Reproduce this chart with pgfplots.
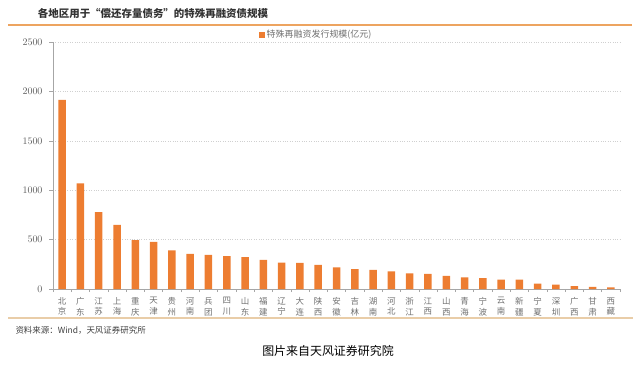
\documentclass[border=0pt]{standalone}
\usepackage{pgfplots}
\pgfplotsset{compat=1.18}
\usepackage{fontspec}
\setmainfont{Noto Sans CJK SC}
\definecolor{barorange}{HTML}{ED7D31}
\definecolor{lineorange}{HTML}{EDA460}
\definecolor{linebeige}{HTML}{E9CDA8}
\definecolor{tickgray}{HTML}{595959}
\definecolor{labgray}{HTML}{6F6F6F}
\definecolor{gridgray}{HTML}{D0D0D0}
\begin{document}
\begin{tikzpicture}[x=1bp,y=1bp]
\useasboundingbox (0,0) rectangle (643,365);
% decorative title/footer rules
\draw[lineorange, line width=1.1bp] (8,340) -- (632,340);
\draw[linebeige, line width=1.6bp] (8,47) -- (633,47);
\node[font=\bfseries\fontsize{10.5}{12}\selectfont, text=black!80] at (153,351) {各地区用于“偿还存量债务”的特殊再融资债规模};
\node[anchor=west, font=\fontsize{8.5}{10}\selectfont, text=black!75] at (12,35) {资料来源：Wind，天风证券研究所};
\node[font=\fontsize{12}{14}\selectfont, text=black] at (328,14) {图片来自天风证券研究院};
\begin{axis}[
  at={(53bp,76bp)}, anchor=south west,
  scale only axis, width=567bp, height=247bp,
  ymin=0, ymax=2500, ytick={0,500,...,2500},
  xmin=-0.5, xmax=30.5,
  axis x line*=bottom, axis y line*=left,
  axis line style={draw=gridgray!80!black, line width=0.6bp},
  ymajorgrids, grid style={gridgray, dotted, line width=0.6bp},
  tick align=outside,
  ytick style={draw=gridgray!80!black, line width=0.5bp},
  major tick length=4bp,
  yticklabel style={text=tickgray, font=\fontsize{10}{12}\selectfont, xshift=-3bp,
    /pgf/number format/1000 sep={}},
  xtick={0,...,30}, xtick style={draw=none},
  minor xtick={-0.5,0.5,...,30.5},
  minor tick length=3bp,
  minor x tick style={draw=gridgray!80!black, line width=0.5bp},
  xticklabel style={text=labgray, font=\fontsize{8.5}{10.5}\selectfont, align=center, yshift=-1bp},
  xticklabels={{北\\京},{广\\东},{江\\苏},{上\\海},{重\\庆},{天\\津},{贵\\州},{河\\南},{兵\\团},{四\\川},{山\\东},{福\\建},{辽\\宁},{大\\连},{陕\\西},{安\\徽},{吉\\林},{湖\\南},{河\\北},{浙\\江},{江\\西},{山\\西},{青\\海},{宁\\波},{云\\南},{新\\疆},{宁\\夏},{深\\圳},{广\\西},{甘\\肃},{西\\藏}},
  scaled y ticks=false,
  legend style={at={(0.464,1.03)}, anchor=center, draw=none, fill=none,
    font=\fontsize{9}{10}\selectfont, text=labgray, inner sep=0pt},
  legend image code/.code={\fill[barorange] (0bp,-3bp) rectangle (6bp,3bp);},
]
\addplot[ybar, bar width=7.5bp, fill=barorange, draw=none] coordinates {
(0,1915) (1,1070) (2,778) (3,650) (4,495) (5,478) (6,392) (7,356) (8,345) (9,333)
(10,322) (11,295) (12,268) (13,264) (14,244) (15,220) (16,200) (17,193) (18,178) (19,159)
(20,152) (21,132) (22,118) (23,111) (24,96) (25,95) (26,55) (27,45) (28,28) (29,21) (30,17)
};
\addlegendentry{特殊再融资发行规模(亿元)}
\end{axis}
\end{tikzpicture}
\end{document}
